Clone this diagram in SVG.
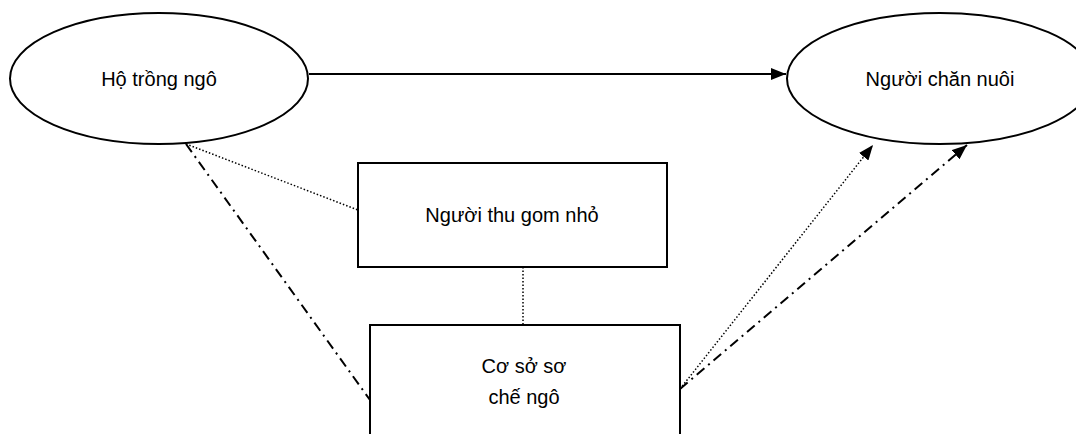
<svg xmlns="http://www.w3.org/2000/svg" width="1076" height="434" viewBox="0 0 1076 434">
<style>
.node{fill:#fff;stroke:#000;stroke-width:2}
.lbl{font-family:"Liberation Sans",Arial,sans-serif;font-size:20px;fill:#000;text-anchor:middle}
.solid{stroke:#000;stroke-width:2;fill:none}
.dot{stroke:#000;stroke-width:1.5;fill:none;stroke-dasharray:1.5 2}
.dashdot{stroke:#000;stroke-width:2;fill:none;stroke-dasharray:10 5 2 5}
</style>
<defs>
<marker id="arr" markerUnits="userSpaceOnUse" markerWidth="15" markerHeight="12" refX="15" refY="6" orient="auto">
<path d="M0,0 L15,6 L0,12 z" fill="#000"/>
</marker>
</defs>
<rect width="1076" height="434" fill="#fff"/>
<g id="connectors">
<line class="solid" x1="309" y1="74" x2="786" y2="74" marker-end="url(#arr)"/>
<line class="dot" x1="186" y1="144" x2="358" y2="210"/>
<line class="dashdot" x1="186" y1="144" x2="370" y2="400"/>
<line class="dot" x1="523" y1="267" x2="523" y2="325"/>
<line class="dot" x1="680" y1="389" x2="873" y2="145" marker-end="url(#arr)"/>
<line class="dashdot" x1="680" y1="389" x2="967" y2="145" marker-end="url(#arr)"/>
</g>
<g id="ho-trong-ngo">
<ellipse class="node" cx="159" cy="78.5" rx="149" ry="65.5"/>
<text class="lbl" x="159" y="86">Hộ trồng ngô</text>
</g>
<g id="nguoi-chan-nuoi">
<ellipse class="node" cx="940" cy="78.5" rx="153" ry="65.5"/>
<text class="lbl" x="940" y="86">Người chăn nuôi</text>
</g>
<g id="nguoi-thu-gom">
<rect class="node" x="358" y="163" width="309" height="104"/>
<text class="lbl" x="512" y="222">Người thu gom nhỏ</text>
</g>
<g id="co-so-so-che">
<rect class="node" x="370" y="325" width="310" height="130"/>
<text class="lbl" x="524" y="373">Cơ sở sơ</text>
<text class="lbl" x="524" y="404">chế ngô</text>
</g>
</svg>
